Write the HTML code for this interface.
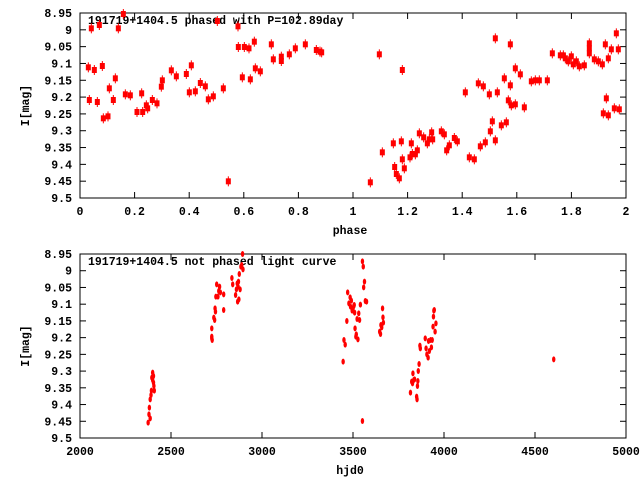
<!DOCTYPE html>
<html><head><meta charset="utf-8"><style>
html,body{margin:0;padding:0;background:#fff;}
svg{display:block;font-family:"Liberation Mono",monospace;font-weight:bold;font-size:11.5px;}
</style></head><body>
<svg id="s" width="640" height="480" xmlns="http://www.w3.org/2000/svg">
<rect width="640" height="480" fill="#fff"/>
</svg>
<script>
var s=document.getElementById('s'),NS='http://www.w3.org/2000/svg';
function el(t,a,txt){var e=document.createElementNS(NS,t);for(var k in a)e.setAttribute(k,a[k]);if(txt!=null)e.textContent=txt;s.appendChild(e);return e;}
var X0=80,X1=626;
function frame(top,bot,xt,xlab,xl,title){
 el('rect',{x:X0,y:top,width:X1-X0,height:bot-top,fill:'none',stroke:'#000','stroke-width':1});
 var yl=['8.95','9','9.05','9.1','9.15','9.2','9.25','9.3','9.35','9.4','9.45','9.5'];
 for(var i=0;i<12;i++){var y=top+(bot-top)*i/11;
  el('text',{x:72,y:y+4,'text-anchor':'end'},yl[i]);
  if(i>0&&i<11){el('line',{x1:X0,y1:y,x2:X0+6,y2:y,stroke:'#000'});el('line',{x1:X1,y1:y,x2:X1-6,y2:y,stroke:'#000'});}}
 for(var i=0;i<xt.length;i++){var x=X0+(X1-X0)*i/(xt.length-1);
  el('text',{x:x,y:bot+17,'text-anchor':'middle'},xt[i]);
  if(i>0&&i<xt.length-1){el('line',{x1:x,y1:bot,x2:x,y2:bot-6,stroke:'#000'});el('line',{x1:x,y1:top,x2:x,y2:top+6,stroke:'#000'});}}
 el('text',{x:350,y:bot+36,'text-anchor':'middle'},xlab);
 el('text',{x:0,y:0,'text-anchor':'middle',transform:'translate(29,'+((top+bot)/2)+') rotate(-90)'},'I[mag]');
 el('text',{x:88,y:top+11},title);
}
frame(13,198,['0','0.2','0.4','0.6','0.8','1','1.2','1.4','1.6','1.8','2'],'phase',0,'191719+1404.5 phased with P=102.89day');
frame(254,438,['2000','2500','3000','3500','4000','4500','5000'],'hjd0',0,'191719+1404.5 not phased light curve');
var p1=[[265,202],[268,300],[274,85],[283,210],[292,306],[298,75],[307,198],[310,355],[324,349],[328,265],[340,300],[346,235],[355,85],[370,42],[376,283],[391,286],[411,336],[425,280],[428,336],[439,316],[443,325],[457,300],[471,310],[484,260],[487,241],[514,211],[529,229],[559,222],[568,277],[574,196],[586,274],[601,249],[616,259],[625,298],[640,289],[652,63],[670,265],[685,544],[714,79],[715,141],[727,232],[733,141],[747,145],[751,238],[763,125],[766,205],[781,214],[814,133],[820,178],[844,170],[844,183],[868,163],[886,145],[916,133],[949,150],[960,155]];
var p2=[[5,157],[178,163],[151,547],[187,457],[224,501],[229,522],[238,535],[247,210],[253,505],[220,430],[244,424],[247,478],[274,430],[270,472],[277,462],[286,463],[292,451],[298,400],[311,412],[322,430],[328,418],[335,397],[338,418],[364,394],[373,403],[380,451],[388,436],[403,414],[412,424],[436,277],[448,472],[463,478],[475,250],[481,439],[490,259],[496,427],[508,283],[511,394],[517,364],[526,115],[526,421],[532,277],[544,376],[553,235],[559,367],[565,301],[571,256],[571,133],[574,316],[586,313],[586,205],[601,223],[613,322],[634,244],[646,241],[658,241],[682,241],[697,160],[721,166],[730,166],[736,175],[745,184],[754,169],[760,193],[769,184],[778,199],[793,196],[808,130],[808,145],[808,160],[823,178],[835,184],[847,193],[856,133],[859,295],[865,175],[850,340],[865,346],[874,148],[883,325],[889,100],[898,328],[895,148]];
function mk(x,y){el('rect',{x:x-2.5,y:y-3,width:5,height:6,fill:'#f00'});el('line',{x1:x,y1:y-5,x2:x,y2:y+5,stroke:'#f00'});}
p1.forEach(function(p){mk(p[0]/3,p[1]/3);});
p2.forEach(function(p){mk(320+p[0]/3,p[1]/3);});
var b=[[361,548],[363,523],[364,503],[366,535],[366,478],[368,465],[369,452],[370,413],[372,398],[374,408],[374,428],[375,438],[376,452],[372,420],
[516,265],[516,295],[516,290],[517,300],[521,233],[523,240],[524,205],[525,215],[526,170],[528,133],[531,170],[533,153],[535,140],[537,157],[545,163],[545,210],[565,114],[567,133],[574,165],[576,148],[578,130],[579,185],[580,140],[582,178],[583,102],[585,148],[587,80],[589,75],[591,42],[592,88],[581,125],
[836,365],[838,300],[841,314],[845,243],[847,157],[850,190],[853,172],[854,200],[856,182],[858,212],[860,205],[862,198],[863,195],[864,218],[865,265],[867,290],[868,283],[870,237],[872,298],[874,220],[876,240],[878,194],[883,64],[883,543],[885,80],[886,142],[888,125],[890,183],[893,185],[925,275],[927,282],[928,255],[930,262],[932,205],[933,232],[934,248],
[1000,458],[1003,425],[1005,430],[1006,400],[1008,420],[1010,418],[1015,470],[1016,478],[1017,438],[1018,423],[1019,393],[1021,372],[1023,317],[1024,325],[1036,295],[1038,325],[1040,343],[1043,353],[1044,303],[1046,333],[1049,300],[1051,322],[1053,300],[1055,260],[1056,230],[1057,212],[1058,210],[1060,275],[1062,250],[1349,358]];
b.forEach(function(p){var x=80+(p[0]-195)*546/1330,y=240+p[1]/3;el('ellipse',{cx:x,cy:y,rx:1.7,ry:3,fill:'#f00'});});
</script>
</body></html>
